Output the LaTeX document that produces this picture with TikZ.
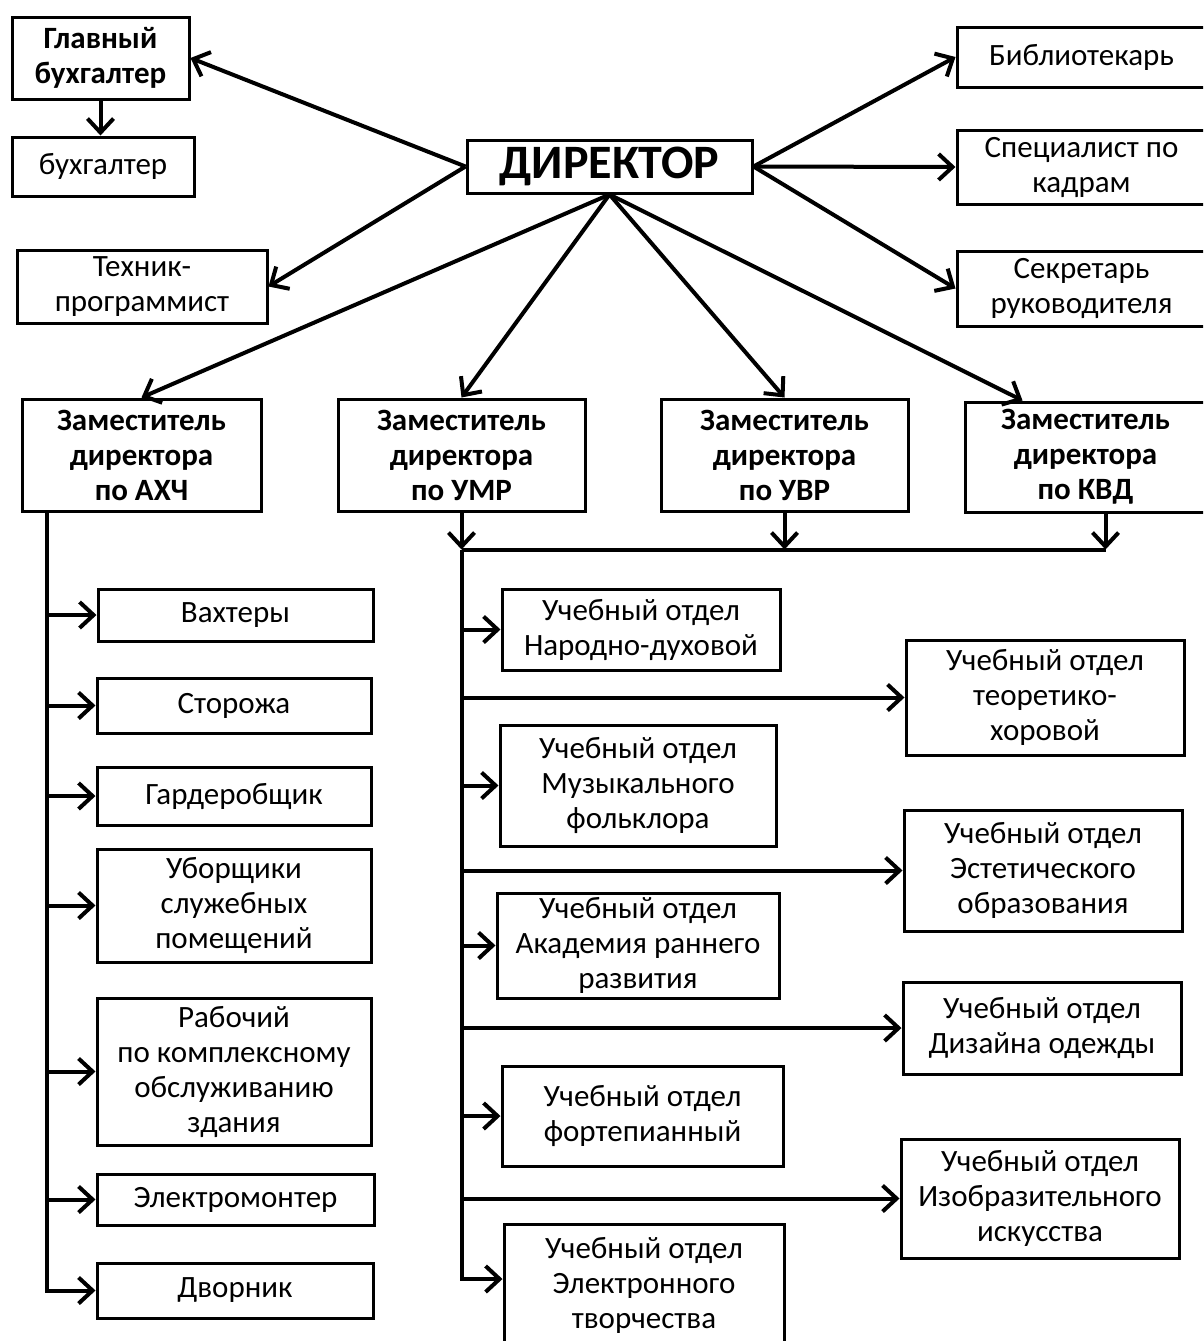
\documentclass[tikz,border=0pt]{standalone}
\usepackage{fontspec}
\setmainfont{Carlito}
\usetikzlibrary{arrows.meta,calc}

\begin{document}
\begin{tikzpicture}[
        %Environment config
        x=1pt, y=-1pt,
        font=\fontsize{31}{35}\selectfont,
        line width=4pt,
        >={Straight Barb[length=14pt,width=26pt]},
        %Environment styles
        BoxCfg/.style={
            draw,
            line width=3pt,
            align=center,
            inner sep=0pt
        },
        BossCfg/.style={
            BoxCfg,
            font=\fontsize{31}{35}\selectfont\bfseries
        },
        BoxSize/.style 2 args={minimum width=#1pt, minimum height=#2pt}
    ]
    \useasboundingbox (0,0) rectangle (1203,1341);
    \clip (0,0) rectangle (1203,1341);

    %Top level
    \path
        (609.5,166.5) node[BoxCfg,BoxSize={285}{53},font=\fontsize{48}{50}\selectfont\bfseries](Dir){ДИРЕКТОР}
        (100.5,58) node[BossCfg,BoxSize={177}{82}](GlBuh){Главный\\бухгалтер}
        (103,166.5) node[BoxCfg,BoxSize={182}{59}](Buh){бухгалтер}
        (142,286.5) node[BoxCfg,BoxSize={250}{73}](Tech){Техник-\\программист}
        (1081.5,57) node[BoxCfg,BoxSize={249}{60}](Bib){Библиотекарь}
        (1081.5,167) node[BoxCfg,BoxSize={249}{74}](Kadr){Специалист по\\кадрам}
        (1081.5,288.5) node[BoxCfg,BoxSize={249}{75}](Sekr){Секретарь\\руководителя};

    %Deputies
    \path
        (141.5,455) node[BossCfg,BoxSize={239}{112}](ZamAHCH){Заместитель\\директора\\по АХЧ}
        (461.5,455) node[BossCfg,BoxSize={247}{112}](ZamUMR){Заместитель\\директора\\по УМР}
        (784.5,455) node[BossCfg,BoxSize={247}{112}](ZamUVR){Заместитель\\директора\\по УВР}
        (1085.5,457) node[BossCfg,BoxSize={241}{110}](ZamKVD){Заместитель\\директора\\по КВД};

    %Staff of AHCH
    \path
        (235.5,615) node[BoxCfg,BoxSize={275}{52}](Vaht){Вахтеры}
        (234,705.5) node[BoxCfg,BoxSize={274}{55}](Stor){Сторожа}
        (234,796) node[BoxCfg,BoxSize={274}{58}](Gard){Гардеробщик}
        (234,905.5) node[BoxCfg,BoxSize={274}{113}](Ubor){Уборщики\\служебных\\помещений}
        (234,1071.5) node[BoxCfg,BoxSize={274}{147}](Rab){Рабочий\\по комплексному\\обслуживанию\\здания}
        (235.5,1199.5) node[BoxCfg,BoxSize={277}{51}](Elmont){Электромонтер}
        (235,1290.5) node[BoxCfg,BoxSize={276}{55}](Dvor){Дворник};

    %Departments
    \path
        (641,629.5) node[BoxCfg,BoxSize={278}{81}](NarDuh){Учебный отдел\\Народно-духовой}
        (1045,697.5) node[BoxCfg,BoxSize={278}{115}](TeorHor){Учебный отдел\\теоретико-\\хоровой}
        (638,785.5) node[BoxCfg,BoxSize={276}{121}](MuzFolk){Учебный отдел\\Музыкального\\фольклора}
        (1043,870.5) node[BoxCfg,BoxSize={278}{121}](Estet){Учебный отдел\\Эстетического\\образования}
        (638,945.5) node[BoxCfg,BoxSize={282}{105}](Akad){Учебный отдел\\Академия раннего\\развития}
        (1042,1028) node[BoxCfg,BoxSize={278}{92}](Dizain){Учебный отдел\\Дизайна одежды}
        (642.5,1116) node[BoxCfg,BoxSize={281}{100}](Fort){Учебный отдел\\фортепианный}
        (1040,1198.5) node[BoxCfg,BoxSize={278}{119}](Izo){Учебный отдел\\Изобразительного\\искусства}
        (644,1285) node[BoxCfg,BoxSize={280}{122}](ElTvor){Учебный отдел\\Электронного\\творчества};

    %Director links
    \draw[->] (Dir.west) -- (GlBuh.east);
    \draw[->] (Dir.west) -- (Tech.east);
    \draw[->] (Dir.east) -- (Bib.west);
    \draw[->] (Dir.east) -- (Kadr.west);
    \draw[->] (Dir.east) -- (Sekr.west);
    \draw[->] (GlBuh.south) -- (GlBuh.south |- Buh.north);
    \draw[->] (Dir.south) -- (ZamAHCH.north);
    \draw[->] (Dir.south) -- (ZamUMR.north);
    \draw[->] (Dir.south) -- (ZamUVR.north);
    \draw[->] (Dir.south) -- ([xshift=-63pt]ZamKVD.north);

    %AHCH branch
    \coordinate (AHCHdown) at ([xshift=26pt]ZamAHCH.south west);
    \draw[->] (AHCHdown) |- (Dvor.west);
    \foreach \n in {Vaht,Stor,Gard,Ubor,Rab,Elmont}
        \draw[->] (AHCHdown |- \n.west) -- (\n.west);

    %Common bus of UMR, UVR, KVD
    \coordinate (Bus) at ([yshift=-37pt]ZamUMR.south);
    \coordinate (KVDdown) at ([xshift=20pt]ZamKVD.south);
    \draw[->] (ZamUMR.south) -- (Bus);
    \draw (Bus) -- (KVDdown |- Bus);
    \draw[->] (ZamUVR.south) -- (ZamUVR.south |- Bus);
    \draw[->] (KVDdown) -- (KVDdown |- Bus);
    \draw[->] (Bus) |- ([yshift=6pt]ElTvor.west);
    \foreach \n in {NarDuh,TeorHor,MuzFolk,Estet,Akad,Dizain,Fort,Izo}
        \draw[->] (Bus |- \n.west) -- (\n.west);
\end{tikzpicture}
\end{document}
